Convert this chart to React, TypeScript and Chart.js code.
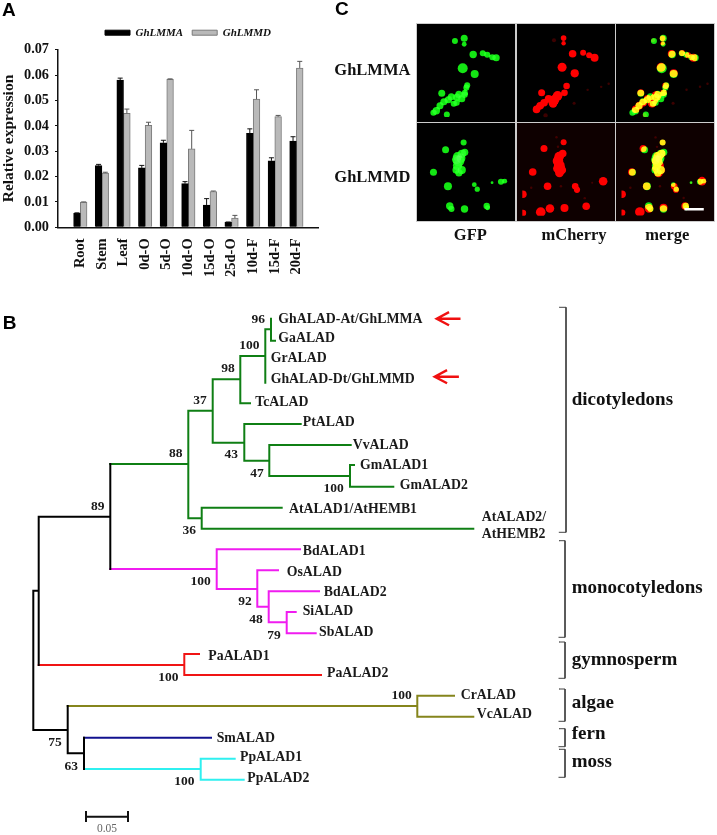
import React, { useEffect, useRef } from "react";
import { Chart, registerables } from "chart.js";
Chart.register(...registerables);

// ---------- Panel A ----------
const tissues = ["Root", "Stem", "Leaf", "0d-O", "5d-O", "10d-O", "15d-O", "25d-O", "10d-F", "15d-F", "20d-F"];
const ghLMMA = [0.0055, 0.0243, 0.058, 0.0234, 0.0333, 0.0172, 0.0088, 0.002, 0.037, 0.0262, 0.034];
const ghLMMD = [0.0099, 0.0214, 0.0449, 0.0402, 0.0583, 0.0309, 0.0141, 0.0036, 0.0505, 0.0436, 0.0628];
const ghLMMAErr = [0.0002, 0.0005, 0.0008, 0.001, 0.001, 0.0008, 0.0025, 0.0001, 0.0018, 0.0012, 0.0017];
const ghLMMDErr = [0.0001, 0.0003, 0.0017, 0.0012, 0.0002, 0.0073, 0.0002, 0.0011, 0.0037, 0.0005, 0.0026];

// ---------- Panel C: spots as [x, y, radius] on a 0-294 image axis ----------
const gfpA = [[110,40,3],[141,31,3.5],[141,51,2.4],[171,85,3.7],[203,81,3],[218,86,3],[235,94,3],[248,96,3.5],[136,131,5],[176,150,4],[151,188,3],[148,196,3],[143,213,3],[66,215,3.5],[123,218,3.5],[116,228,3.5],[98,226,3.5],[88,236,3.5],[73,243,3.5],[60,256,3.5],[48,273,3.7],[116,246,3],[106,250,3],[83,286,3],[143,220,3],[133,233,3.5],[38,280,3]];
const cherryA = [[139,31,2.8],[139,48,2.2],[169,83,3.8],[204,80,3],[224,88,3],[242,96,4],[134,128,4.5],[176,148,4.1],[149,190,3.3],[142,213,3.3],[66,213,3.5],[119,223,4.8],[109,236,4.8],[89,233,3.8],[74,246,3.8],[61,256,3.8],[49,268,3.8],[104,248,4.3]];
const cherryADim = [[107,38,2],[79,288,2.2],[219,203,1.2],[264,193,1.2],[174,248,1.5],[289,183,1.2]];
const gfpD = [[139,47,3],[78,72,3.5],[118,95,4.5],[133,85,4],[143,80,3.5],[123,110,5.5],[118,125,4.5],[133,140,4],[113,140,3.5],[123,150,3.5],[115,105,4.5],[130,100,4.5],[37,148,3.5],[86,195,4],[175,190,2.4],[185,205,2.6],[235,183,1.4],[265,180,3],[278,178,2.4],[92,262,3.7],[98,272,3],[142,272,3.7],[217,262,3.2],[220,268,2.4]];
const cherryD = [[139,47,3],[73,68,3.5],[124,95,4.8],[136,85,3.8],[120,110,5.3],[125,125,5.3],[118,135,4.3],[133,140,4.3],[125,150,4.3],[35,147,3.8],[85,195,3.8],[178,195,3.3],[184,207,3.1],[272,178,4.3],[93,270,4.3],[142,268,4],[215,262,3.8],[62,282,4.8],[2,222,3.8],[2,285,3.3]];
const cherryDDim = [[235,183,1],[115,30,1.2],[120,62,1.2],[30,200,1.2],[130,195,1.2],[210,235,1.2]];
const scaleBarC = [[213, 273], [278, 273]];

// ---------- Panel B: branch polylines on the tree's own axis ----------
const greenBranches = [
  [[110.3,464],[188.3,464]], [[188.3,410.7],[188.3,518.3]], [[188.3,410.7],[212.7,410.7]], [[212.7,379.3],[212.7,442.7]],
  [[212.7,379.3],[240.3,379.3]], [[240.3,356],[240.3,403.3]], [[240.3,403.3],[250,403.3]], [[240.3,356],[265.3,356]],
  [[265.3,329.3],[265.3,382.7]], [[265.3,329.3],[271,329.3]], [[271,318.7],[271,340.7],[275,340.7]],
  [[212.7,442.7],[244.3,442.7]], [[244.3,424],[244.3,460.7]], [[244.3,424],[300.7,424]], [[244.3,460.7],[269.3,460.7]],
  [[269.3,445],[269.3,476]], [[269.3,445],[350.7,445]], [[269.3,476],[350,476]], [[350,465],[350,486.7]], [[350,465],[354,465]],
  [[350,486.7],[393.3,486.7]], [[188.3,518.3],[201.7,518.3]], [[201.7,507.7],[201.7,528.7]], [[201.7,507.7],[281.7,507.7]], [[201.7,528.7],[473.3,528.7]],
];
const magentaBranches = [
  [[110.3,569],[216.7,569]], [[216.7,549.3],[216.7,589]], [[216.7,549.3],[300,549.3]], [[216.7,589],[257.3,589]],
  [[257.3,570.3],[257.3,606.7]], [[257.3,570.3],[278,570.3]], [[257.3,606.7],[268.7,606.7]], [[268.7,591.3],[268.7,622.3]],
  [[268.7,591.3],[319,591.3]], [[268.7,622.3],[286.7,622.3]], [[286.7,612],[286.7,633.3]], [[286.7,612],[295.7,612]], [[286.7,633.3],[315.7,633.3]],
];
const blackBranches = [
  [[110.3,464],[110.3,569]], [[38.7,516.7],[110.3,516.7]], [[38.7,516.7],[38.7,665]], [[33.3,590.7],[38.7,590.7]], [[33.3,590.7],[33.3,730]],
  [[33.3,730],[67.7,730]], [[67.7,706],[67.7,753.3]], [[67.7,753.3],[84,753.3]], [[84,737.7],[84,769]],
];
const redBranches = [[[38.7,665],[184.3,665]], [[184.3,654],[184.3,675]], [[184.3,654],[199,654]], [[184.3,675],[321,675]]];
const oliveBranches = [[[67.7,706],[417.3,706]], [[417.3,695.7],[417.3,716.7]], [[417.3,695.7],[454,695.7]], [[417.3,716.7],[473.3,716.7]]];
const blueBranches = [[[84,737.7],[211,737.7]]];
const cyanBranches = [[[84,769],[200.7,769]], [[200.7,758.7],[200.7,779.7]], [[200.7,758.7],[234.7,758.7]], [[200.7,779.7],[243.7,779.7]]];
const treeScaleBar = [[[86,816.7],[128,816.7]], [[86,812],[86,821]], [[128,812],[128,821]]];
const cladeBrackets = [
  [[559.3,307.3],[566,307.3],[566,532.3],[559.3,532.3]],
  [[559,540.7],[565,540.7],[565,637.3],[559,637.3]],
  [[559,642],[565,642],[565,678.3],[559,678.3]],
  [[559,689],[565,689],[565,721.3],[559,721.3]],
  [[559,728.7],[565,728.7],[565,746.7],[559,746.7]],
  [[559,749.3],[565,749.3],[565,777.3],[559,777.3]],
];
const redArrows = [
  [[459.3,318.7],[437.5,318.7]], [[448,312.7],[436.7,318.7],[448,324.7]],
  [[457.7,376.7],[435.5,376.7]], [[446,370.7],[434.7,376.7],[446,382.7]],
];
const leafLabels = [
  ["GhALAD-At/GhLMMA",278.3,319.3],["GaALAD",278.3,338.3],["GrALAD",270.7,358.7],["GhALAD-Dt/GhLMMD",270.7,379],["TcALAD",255.3,402],
  ["PtALAD",302.7,422.3],["VvALAD",352.7,445.3],["GmALAD1",360,465.7],["GmALAD2",399.7,485.3],["AtALAD1/AtHEMB1",289,509.3],
  ["AtALAD2/",481.7,517.3],["AtHEMB2",481.7,534],["BdALAD1",302.7,551],["OsALAD",286.7,572.3],["BdALAD2",323.7,592.3],["SiALAD",302.7,611.7],
  ["SbALAD",319,632.3],["PaALAD1",208.3,656.3],["PaALAD2",327,673.3],["CrALAD",460.7,695.7],["VcALAD",476.7,714.7],["SmALAD",216.7,738.7],
  ["PpALAD1",240,757],["PpALAD2",247.3,778],
];
const bootstrapLabels = [
  ["96",258.3,320],["100",249.3,345.7],["98",228,369],["37",200,400.3],["88",175.7,454],["43",231.3,455],["47",257,473.3],["100",333.7,489],
  ["89",97.7,506.3],["36",189.3,530.7],["100",200.7,582],["92",245,601.3],["48",256,620],["79",274,635.7],["100",168.3,677.3],["100",401.7,696],
  ["75",55,743],["63",71.3,766.7],["100",184.3,782],
];
const cladeLabels = [["dicotyledons",571.7,400],["monocotyledons",571.7,588.3],["gymnosperm",571.7,660],["algae",571.7,703.3],["fern",571.7,734],["moss",571.7,762.3]];
const panelLetters = [["A",2,11],["B",2.7,324],["C",335,10]];
const rowLabels = [["GhLMMA",334.3,71],["GhLMMD",334.3,178]];
const columnLabels = [["GFP",470.3,236],["mCherry",574,236],["merge",667.3,236]];

const SERIF = '"Liberation Serif", serif';
const SANS = '"Liberation Sans", sans-serif';
const X_PX_PER_TISSUE = 21.6;

// Turn polylines into one dataset, with gaps between them
function branchData(lines: number[][][]) {
  const out: { x: number; y: number }[] = [];
  lines.forEach((l) => {
    l.forEach(([x, y]) => out.push({ x, y }));
    out.push({ x: NaN, y: NaN });
  });
  return out;
}
const branchSet = (lines: number[][][], color: string, width: number) => ({
  data: branchData(lines),
  showLine: true,
  borderColor: color,
  borderWidth: width,
  pointRadius: 0,
  borderCapStyle: "square" as const,
  borderJoinStyle: "miter" as const,
  spanGaps: false,
  tension: 0,
});

const baseOptions = {
  responsive: false,
  animation: false as const,
  events: [] as string[],
};

function BarPanel() {
  const ref = useRef<HTMLCanvasElement>(null);
  useEffect(() => {
    const errorBars = {
      id: "errorBars",
      afterDatasetsDraw(chart: any) {
        const { ctx, scales } = chart;
        [ghLMMAErr, ghLMMDErr].forEach((errs, d) => {
          const values = d === 0 ? ghLMMA : ghLMMD;
          const meta = chart.getDatasetMeta(d);
          ctx.save();
          ctx.strokeStyle = d === 0 ? "#111" : "#555";
          ctx.lineWidth = 1;
          meta.data.forEach((el: any, i: number) => {
            const y0 = scales.y.getPixelForValue(values[i]);
            const y1 = scales.y.getPixelForValue(values[i] + errs[i]);
            ctx.beginPath();
            ctx.moveTo(el.x, y0);
            ctx.lineTo(el.x, y1);
            ctx.moveTo(el.x - 2.5, y1);
            ctx.lineTo(el.x + 2.5, y1);
            ctx.stroke();
          });
          ctx.restore();
        });
      },
    };
    const nudgeLegend = {
      id: "nudgeLegend",
      afterLayout(chart: any) {
        if (chart.legend) chart.legend.top -= 1.5;
      },
    };
    const chart = new Chart(ref.current!, {
      type: "bar",
      data: {
        datasets: [
          { label: "GhLMMA", data: tissues.map((_, i) => ({ x: i + 1, y: ghLMMA[i] })), backgroundColor: "#000", borderColor: "#000", borderWidth: 1 },
          { label: "GhLMMD", data: tissues.map((_, i) => ({ x: i + 1, y: ghLMMD[i] })), backgroundColor: "#b9b9b9", borderColor: "#7a7a7a", borderWidth: 1 },
        ],
      },
      options: {
        ...baseOptions,
        layout: { padding: { top: 19.7, right: 12, left: 0, bottom: 0 } },
        datasets: { bar: { barThickness: 6.7 } },
        plugins: {
          tooltip: { enabled: false },
          legend: {
            position: "top",
            fullSize: false,
            labels: {
              boxWidth: 25,
              boxHeight: 5,
              padding: 9,
              color: "#111",
              font: { family: SERIF, size: 11, weight: "bold", style: "italic" },
            },
          },
        },
        scales: {
          x: {
            type: "linear",
            offset: false,
            bounds: "data",
            min: 1 - 22.3 / X_PX_PER_TISSUE,
            max: 12,
            grid: { display: false },
            border: { color: "#111", width: 1.5 },
            afterBuildTicks(s: any) {
              s.ticks = tissues.map((_, i) => ({ value: i + 1 }));
            },
            afterFit(s: any) {
              s.height = 62.7;
            },
            ticks: {
              autoSkip: false,
              minRotation: 90,
              maxRotation: 90,
              padding: 3,
              color: "#111",
              font: { family: SERIF, size: 14.5, weight: "bold" },
              callback: (v: any) => tissues[Number(v) - 1],
            },
          },
          y: {
            min: 0,
            max: 0.07,
            grid: { drawOnChartArea: false, drawTicks: true, tickLength: 3, color: "#111" },
            border: { color: "#111", width: 1.5 },
            afterFit(s: any) {
              s.width = 58;
            },
            title: {
              display: true,
              text: "Relative expression",
              color: "#111",
              padding: 0,
              font: { family: SERIF, size: 15.5, weight: "bold" },
            },
            ticks: {
              stepSize: 0.01,
              padding: 6,
              color: "#111",
              font: { family: SERIF, size: 14.3, weight: "bold" },
              callback: (v: any) => Number(v).toFixed(2),
            },
          },
        },
      } as any,
      plugins: [errorBars, nudgeLegend],
    });
    return () => chart.destroy();
  }, []);
  return <canvas ref={ref} width={330} height={290} style={{ position: "absolute", left: 0, top: 0, display: "block" }} />;
}

function TreePanel() {
  const ref = useRef<HTMLCanvasElement>(null);
  useEffect(() => {
    const drawLabels = (chart: any, list: any[], font: string, color: string, align: CanvasTextAlign) => {
      const { ctx, scales } = chart;
      ctx.save();
      ctx.font = font;
      ctx.fillStyle = color;
      ctx.textAlign = align;
      ctx.textBaseline = "middle";
      list.forEach(([t, x, y]) => ctx.fillText(t, scales.x.getPixelForValue(x), scales.y.getPixelForValue(y)));
      ctx.restore();
    };
    const labels = {
      id: "labels",
      afterDatasetsDraw(chart: any) {
        drawLabels(chart, leafLabels, `bold 13.8px ${SERIF}`, "#1a1a1a", "left");
        drawLabels(chart, bootstrapLabels, `bold 13.5px ${SERIF}`, "#1a1a1a", "center");
        drawLabels(chart, cladeLabels, `bold 19px ${SERIF}`, "#111", "left");
        drawLabels(chart, panelLetters, `bold 19px ${SANS}`, "#000", "left");
        drawLabels(chart, rowLabels, `bold 16.5px ${SERIF}`, "#111", "left");
        drawLabels(chart, columnLabels, `bold 16.5px ${SERIF}`, "#111", "center");
        drawLabels(chart, [["0.05", 107, 829]], `11.5px ${SERIF}`, "#666", "center");
      },
    };
    const chart = new Chart(ref.current!, {
      type: "scatter",
      data: {
        datasets: [
          branchSet(cladeBrackets, "#444", 1),
          branchSet(blackBranches, "#000", 2),
          branchSet(greenBranches, "#0f7f14", 2),
          branchSet(magentaBranches, "#f01cf0", 2),
          branchSet(redBranches, "#f01414", 2),
          branchSet(oliveBranches, "#85851c", 2),
          branchSet(blueBranches, "#12128f", 2),
          branchSet(cyanBranches, "#2ff0f0", 2),
          branchSet(treeScaleBar, "#111", 2),
          branchSet(redArrows, "#f01010", 2.4),
        ],
      },
      options: {
        ...baseOptions,
        layout: { padding: 0 },
        plugins: { legend: { display: false }, tooltip: { enabled: false } },
        scales: {
          x: { type: "linear", display: false, min: 0, max: 717 },
          y: { type: "linear", display: false, min: 0, max: 835, reverse: true },
        },
      } as any,
      plugins: [labels],
    });
    return () => chart.destroy();
  }, []);
  return <canvas ref={ref} width={717} height={835} style={{ position: "absolute", left: 0, top: 0, display: "block" }} />;
}

type Spot = number[];
function Micrograph({ left, top, green, red, dim, bar, bg }: { left: number; top: number; green?: Spot[]; red?: Spot[]; dim?: Spot[]; bar?: boolean; bg?: string }) {
  const ref = useRef<HTMLCanvasElement>(null);
  useEffect(() => {
    const toBubbles = (a: Spot[]) => a.map(([x, y, r]) => ({ x, y, r }));
    const mix = {
      id: "mix",
      beforeDatasetsDraw(chart: any) {
        chart.ctx.globalCompositeOperation = "lighter";
      },
      afterDatasetsDraw(chart: any) {
        chart.ctx.globalCompositeOperation = "source-over";
      },
    };
    const datasets: any[] = [];
    if (dim) datasets.push({ type: "bubble", data: toBubbles(dim), backgroundColor: "rgba(150,0,0,0.4)", borderWidth: 0 });
    if (red) datasets.push({ type: "bubble", data: toBubbles(red), backgroundColor: "#ff0000", borderWidth: 0 });
    if (green) datasets.push({ type: "bubble", data: toBubbles(green), backgroundColor: "#14e614", borderWidth: 0 });
    if (bar)
      datasets.push({ type: "scatter", data: scaleBarC.map(([x, y]) => ({ x, y })), showLine: true, pointRadius: 0, borderColor: "#fff", borderWidth: 2.5 });
    const chart = new Chart(ref.current!, {
      type: "bubble",
      data: { datasets },
      options: {
        ...baseOptions,
        layout: { padding: 0 },
        plugins: { legend: { display: false }, tooltip: { enabled: false } },
        scales: {
          x: { type: "linear", display: false, min: 0, max: 294 },
          y: { type: "linear", display: false, min: 0, max: 294, reverse: true },
        },
      } as any,
      plugins: [mix],
    });
    return () => chart.destroy();
  }, []);
  return (
    <div style={{ position: "absolute", left, top, width: 98, height: 98, overflow: "hidden", background: bg || "#000", outline: "1px solid #ccc" }}>
      <canvas ref={ref} width={98} height={98} style={{ display: "block", filter: "blur(0.5px)" }} />
    </div>
  );
}

export default function App() {
  return (
    <div style={{ position: "absolute", left: 0, top: 0, width: 717, height: 835, background: "#fff", overflow: "hidden" }}>
      <TreePanel />
      <BarPanel />
      <Micrograph left={417.3} top={24} green={gfpA} />
      <Micrograph left={517} top={24} red={cherryA} dim={cherryADim} />
      <Micrograph left={616.3} top={24} green={gfpA} red={cherryA} dim={cherryADim} />
      <Micrograph left={417.3} top={123.3} green={gfpD} />
      <Micrograph left={517} top={123.3} red={cherryD} dim={cherryDDim} bg="#0e0000" />
      <Micrograph left={616.3} top={123.3} green={gfpD} red={cherryD} dim={cherryDDim} bar bg="#0e0000" />
    </div>
  );
}
